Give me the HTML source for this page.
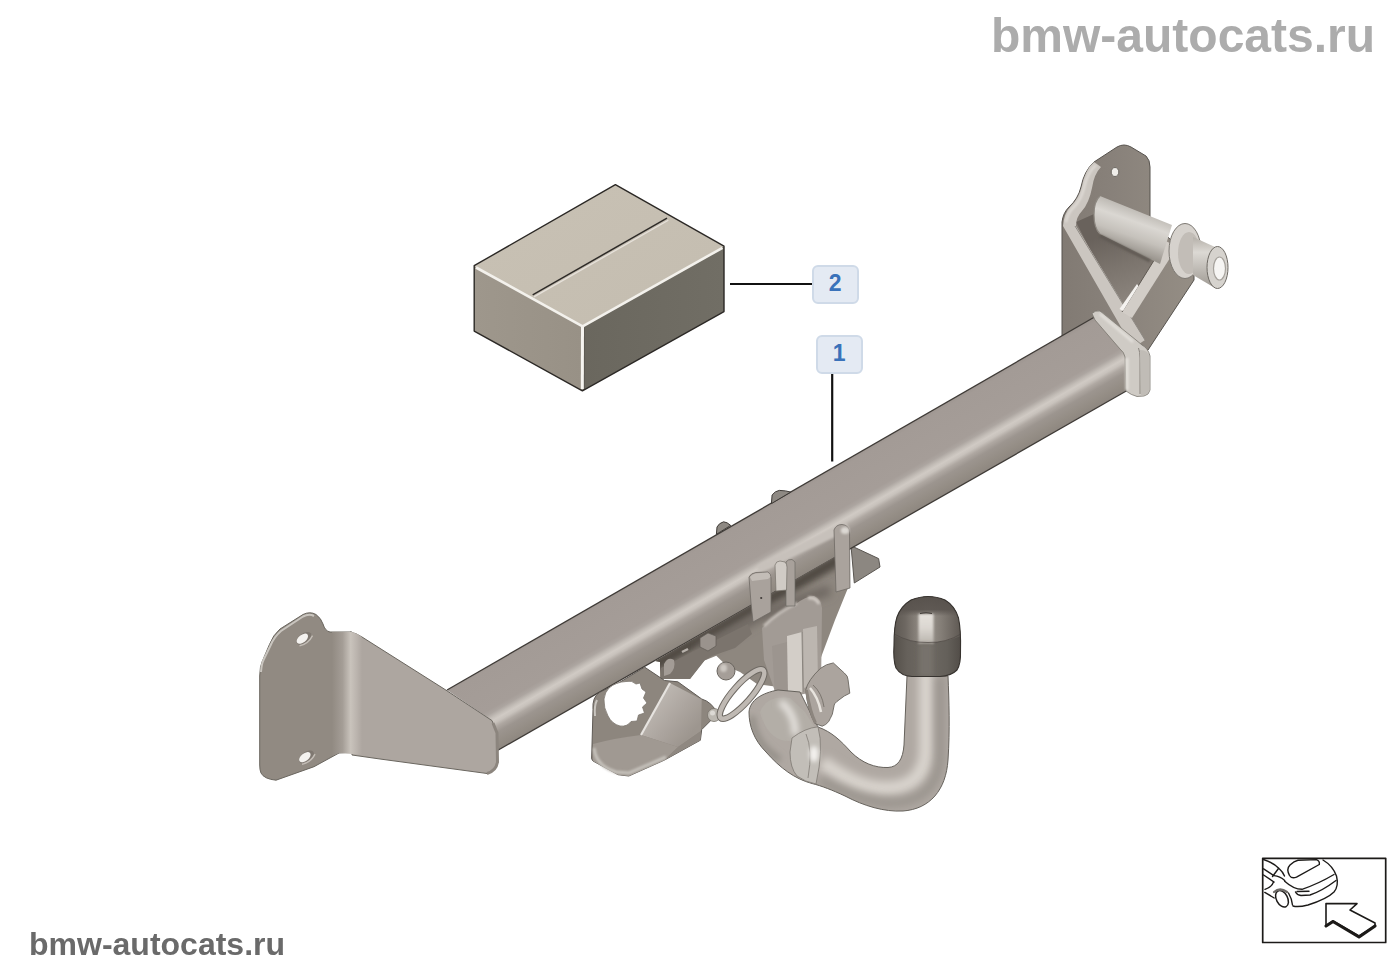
<!DOCTYPE html>
<html><head><meta charset="utf-8"><title>Towbar</title>
<style>
html,body{margin:0;padding:0;background:#fff;}
body{width:1400px;height:980px;position:relative;overflow:hidden;font-family:"Liberation Sans",sans-serif;}
.wm1{position:absolute;left:991px;top:8px;font-weight:bold;font-size:48px;line-height:56px;color:#acacac;white-space:nowrap;will-change:transform;}
.wm2{position:absolute;left:29px;top:925px;font-weight:bold;font-size:32px;line-height:38px;color:#6a6a6a;white-space:nowrap;will-change:transform;}
.lbl{position:absolute;width:42.5px;height:34.5px;border:2px solid #cfdae8;border-radius:6px;background:#e4eaf3;color:#3a72ba;font-weight:bold;font-size:23px;line-height:32.5px;text-align:center;}
svg{position:absolute;left:0;top:0;}
</style></head>
<body>
<svg width="1400" height="980" viewBox="0 0 1400 980">
<defs>
  <linearGradient id="gBar" gradientUnits="userSpaceOnUse" x1="700" y1="543.8" x2="739" y2="611.9">
    <stop offset="0" stop-color="#9e9691"/><stop offset="0.05" stop-color="#a39b96"/><stop offset="0.5" stop-color="#a59d98"/><stop offset="0.55" stop-color="#aca5a0"/><stop offset="0.6" stop-color="#c2bcb6"/><stop offset="0.64" stop-color="#d0cac4"/><stop offset="0.68" stop-color="#c8c2bc"/><stop offset="0.73" stop-color="#afa8a2"/><stop offset="0.8" stop-color="#9c958f"/><stop offset="0.92" stop-color="#948d85"/><stop offset="1" stop-color="#8e8780"/>
  </linearGradient>
  <linearGradient id="gBoxTop" x1="0" y1="0" x2="1" y2="1">
    <stop offset="0" stop-color="#c8c1b4"/><stop offset="1" stop-color="#c4bdb0"/>
  </linearGradient>
  <linearGradient id="gBoxL" x1="0" y1="0" x2="1" y2="0">
    <stop offset="0" stop-color="#9e978c"/><stop offset="1" stop-color="#989186"/>
  </linearGradient>
  <linearGradient id="gBoxR" x1="0" y1="0" x2="1" y2="0">
    <stop offset="0" stop-color="#6a675e"/><stop offset="1" stop-color="#716e65"/>
  </linearGradient>
  <linearGradient id="gBend" gradientUnits="userSpaceOnUse" x1="332" y1="0" x2="362" y2="0">
    <stop offset="0" stop-color="#918a82"/><stop offset="0.35" stop-color="#a49d96"/><stop offset="0.62" stop-color="#c9c3bc"/><stop offset="0.85" stop-color="#b9b2ac"/><stop offset="1" stop-color="#ada6a0"/>
  </linearGradient>
  <linearGradient id="gBall" x1="0" y1="0" x2="1" y2="0">
    <stop offset="0" stop-color="#58534d"/><stop offset="0.2" stop-color="#6d6761"/><stop offset="0.33" stop-color="#857f78"/><stop offset="0.5" stop-color="#9a948d"/><stop offset="0.68" stop-color="#837d76"/><stop offset="0.85" stop-color="#6a645e"/><stop offset="1" stop-color="#544f49"/>
  </linearGradient>
  <linearGradient id="gBallLow" x1="0" y1="0" x2="1" y2="0">
    <stop offset="0" stop-color="#55504a"/><stop offset="0.2" stop-color="#66615b"/><stop offset="0.5" stop-color="#6e6963"/><stop offset="0.8" stop-color="#64605a"/><stop offset="1" stop-color="#524d48"/>
  </linearGradient>
  <linearGradient id="gBallTop" x1="0" y1="0" x2="0" y2="1">
    <stop offset="0" stop-color="#554f4a" stop-opacity="1"/><stop offset="0.75" stop-color="#5a544f" stop-opacity="0.92"/><stop offset="1" stop-color="#5a544f" stop-opacity="0"/>
  </linearGradient>
  <linearGradient id="gBallHi" x1="0" y1="0" x2="0" y2="1">
    <stop offset="0" stop-color="#e6e2dc"/><stop offset="0.45" stop-color="#dbd7d1"/><stop offset="1" stop-color="#b9b4ad"/>
  </linearGradient>
  <filter id="blur05" filterUnits="userSpaceOnUse" x="0" y="0" width="1400" height="980"><feGaussianBlur stdDeviation="0.5"/></filter>
  <filter id="blur1" filterUnits="userSpaceOnUse" x="0" y="0" width="1400" height="980"><feGaussianBlur stdDeviation="1"/></filter>
  <filter id="blur2" filterUnits="userSpaceOnUse" x="0" y="0" width="1400" height="980"><feGaussianBlur stdDeviation="2"/></filter>
  <filter id="blur3" filterUnits="userSpaceOnUse" x="0" y="0" width="1400" height="980"><feGaussianBlur stdDeviation="3"/></filter>
  <filter id="blur4" filterUnits="userSpaceOnUse" x="0" y="0" width="1400" height="980"><feGaussianBlur stdDeviation="4"/></filter>
  <linearGradient id="gNeck" x1="0" y1="0" x2="1" y2="0">
    <stop offset="0" stop-color="#9d9891"/><stop offset="0.45" stop-color="#cbc7c1"/><stop offset="1" stop-color="#a29d96"/>
  </linearGradient>
  <linearGradient id="gArm" gradientUnits="userSpaceOnUse" x1="860" y1="745" x2="850" y2="808">
    <stop offset="0" stop-color="#a9a49d"/><stop offset="0.4" stop-color="#c4c0ba"/><stop offset="1" stop-color="#a39e97"/>
  </linearGradient>
  <linearGradient id="gPin" gradientUnits="userSpaceOnUse" x1="1140" y1="210" x2="1126" y2="250">
    <stop offset="0" stop-color="#bdb9b3"/><stop offset="0.3" stop-color="#dad7d2"/><stop offset="0.65" stop-color="#c5c1bb"/><stop offset="1" stop-color="#9a958e"/>
  </linearGradient>
  <linearGradient id="gInner" gradientUnits="userSpaceOnUse" x1="1105" y1="235" x2="1128" y2="305">
    <stop offset="0" stop-color="#69625c"/><stop offset="0.45" stop-color="#7b746d"/><stop offset="1" stop-color="#8d867f"/>
  </linearGradient>
  <linearGradient id="gPin2" x1="0" y1="0" x2="0" y2="1">
    <stop offset="0" stop-color="#b5b0a9"/><stop offset="0.3" stop-color="#dcd9d4"/><stop offset="1" stop-color="#9e9992"/>
  </linearGradient>
  <linearGradient id="gRPlate" gradientUnits="userSpaceOnUse" x1="1060" y1="0" x2="1190" y2="0">
    <stop offset="0" stop-color="#817a73"/><stop offset="0.4" stop-color="#88817a"/><stop offset="1" stop-color="#948d84"/>
  </linearGradient>
  <linearGradient id="gHolder" gradientUnits="userSpaceOnUse" x1="655" y1="705" x2="690" y2="735">
    <stop offset="0" stop-color="#bbb5af"/><stop offset="0.5" stop-color="#aca59f"/><stop offset="1" stop-color="#9d968f"/>
  </linearGradient>
</defs>

<!-- ===== BOX (item 2) ===== -->
<polygon points="615.4,184.6 724,246.2 582.6,325.5 474.2,265.7" fill="url(#gBoxTop)"/>
<polygon points="474.2,265.7 582.6,325.5 582.4,390.8 474.2,331.1" fill="url(#gBoxL)"/>
<polygon points="582.6,325.5 724,246.2 724,311.6 582.4,390.8" fill="url(#gBoxR)"/>
<polyline points="476,267.5 582.6,326.3 722.5,247.8" fill="none" stroke="#f3f1ec" stroke-width="2.6" stroke-linejoin="round" filter="url(#blur05)"/>
<line x1="582.5" y1="327" x2="582.3" y2="389" stroke="#f6f4f0" stroke-width="3" filter="url(#blur05)"/>
<line x1="584.6" y1="328" x2="584.4" y2="389" stroke="#55524b" stroke-width="0.8" opacity="0.7"/>
<polygon points="615.4,184.6 724,246.2 724,311.6 582.4,390.8 474.2,331.1 474.2,265.7" fill="none" stroke="#2b2825" stroke-width="1.4" stroke-linejoin="round"/>
<line x1="532.7" y1="294.8" x2="667" y2="218.2" stroke="#2e2b28" stroke-width="1.5"/>
<line x1="534" y1="296.9" x2="668.3" y2="220.3" stroke="#e6e1da" stroke-width="1.3"/>

<!-- leader lines -->
<line x1="730" y1="284" x2="816" y2="284" stroke="#111" stroke-width="2.2"/>
<path d="M814,285 L818,281" stroke="#111" stroke-width="1.5"/>
<line x1="832.2" y1="373" x2="832.2" y2="461.5" stroke="#111" stroke-width="2.2"/>

<!-- ===== RIGHT BRACKET (behind bar) ===== -->
<g id="rbracket">
  <path d="M1062,340 L1062,222 Q1063,213 1069,207 Q1078,199 1081,187 Q1084,171 1094,162 L1117,147 Q1124,143 1131,147 L1146,156 Q1150,160 1150,167 L1150,220 L1194,262 L1194,280 L1148,350 L1128,352 Z" fill="url(#gRPlate)" stroke="#57534e" stroke-width="1"/>
  <!-- inner shaded region between rim and gusset -->
  <path d="M1076,222 L1094,214 L1100,234 L1158,262 L1172,242 L1124,316 Z" fill="url(#gInner)"/>
  <!-- rim band left (bent flange edge) -->
  <path d="M1063,226 Q1064,213 1071,206 Q1079,198 1082,186 Q1085,170 1094,162 L1101,167 Q1094,174 1092,188 Q1089,203 1082,211 Q1076,217 1076,226 L1145,340 L1133,348 Z" fill="#cbc6c0"/>
  <path d="M1066,222 Q1068,212 1074,207 Q1081,200 1084,188 Q1087,173 1096,165" fill="none" stroke="#e2ded9" stroke-width="2" filter="url(#blur1)"/>
  <path d="M1075,226 L1145,340" stroke="#8e8983" stroke-width="1"/>
  <!-- gusset band right -->
  <path d="M1166,241 L1177,247 L1132,318 L1122,312 Z" fill="#d2cdc7"/>
  <path d="M1166,241 L1122,312" stroke="#5e5852" stroke-width="1"/>
  <path d="M1119.5,309 L1137,284 L1138.5,286 L1123,311 Z" fill="#f4f2ef"/>
  <!-- hole -->
  <ellipse cx="1115" cy="172" rx="3.8" ry="4.5" fill="#f0eeea" stroke="#6d6963" stroke-width="1"/>
  <!-- pin cylinder -->
  <path d="M1100,196 L1172,225 L1160,264 L1100,234 Q1094,228 1094,215 Q1094,201 1100,196 Z" fill="url(#gPin)"/>
  <path d="M1100,196 Q1094,201 1094,215 Q1094,228 1100,234" fill="none" stroke="#8e8982" stroke-width="1.2"/>
  <path d="M1100,236 L1150,261" stroke="#5f5953" stroke-width="3" filter="url(#blur1)"/>
  <!-- collar -->
  <ellipse cx="1185" cy="251" rx="16" ry="27.5" fill="#d6d2cd" stroke="#7d7973" stroke-width="1"/>
  <ellipse cx="1189" cy="253" rx="11" ry="21" fill="#c2bdb7"/>
  <path d="M1193,237 L1215,247 L1215,288 L1193,275 Z" fill="url(#gPin2)"/>
  <ellipse cx="1217.5" cy="267.5" rx="10.5" ry="21" fill="#d6d3ce" stroke="#6f6b65" stroke-width="1"/>
  <ellipse cx="1219.5" cy="268.5" rx="6" ry="11.5" fill="#f6f5f3" stroke="#a5a19b" stroke-width="1.2"/>
</g>

<!-- back triangle plate (center, behind) -->
<polygon points="851,545.7 878.6,558.6 880,567 854.3,583" fill="#8c8781" stroke="#5a5651" stroke-width="1"/>

<!-- ===== MAIN BAR ===== -->
<polygon points="447,690 1095,316.8 1124,350 1127,360 1128,390 497,750.7 492,720.6" fill="url(#gBar)"/>
<line x1="447" y1="690" x2="1095" y2="316.8" stroke="#3f3b37" stroke-width="1.3"/>
<line x1="497" y1="750.7" x2="1128" y2="390" stroke="#3f3b37" stroke-width="1.3"/>
<!-- tabs on bar top -->
<path d="M716.4,534.3 L717,527 Q719,523 723.6,521.8 Q727,522 730.7,525.4 Z" fill="#8e8983" stroke="#3f3b37" stroke-width="1"/>
<path d="M771.4,503.6 L772.1,495 Q775,491 779.3,490.4 Q786,490.5 790.7,492.1 Z" fill="#8e8983" stroke="#3f3b37" stroke-width="1"/>

<!-- right flange ring at bar end -->
<path d="M1092,313.5 Q1095,310 1100,311 L1136,340 L1142,345 Q1148,348 1150,356 L1150,390 Q1149,395 1144,396 L1137,396.5 Q1131,395 1126,391 L1125,357 Q1124,352 1120,349 L1095,320 Z" fill="#cfcbc5" stroke="#7a766f" stroke-width="0.8"/>
<path d="M1138.5,348 Q1140,352 1140,358 L1140,394" fill="none" stroke="#8a857f" stroke-width="1"/>
<path d="M1140,350 Q1149,350 1149.5,358 L1149.5,390 Q1148,395 1141,396 Z" fill="#c0bcb6"/>
<path d="M1127,358 L1127,390" stroke="#e4e1dc" stroke-width="3" filter="url(#blur1)"/>
<path d="M1100,314 L1133,342" stroke="#e4e1dc" stroke-width="2.5" filter="url(#blur1)"/>

<!-- ===== LEFT BRACKET ===== -->
<g stroke="#6a665f" stroke-width="1">
  <path d="M259.7,676 Q260,666 262,662 L269.4,644.6 Q273,635 280,629 L303,614.5 Q310,611 316,614.5 Q321,618 323,624 Q325,631 330,632 L352,632 L352,752 L339,753 L314,766.7 L276,780.2 Q264,779 261,773 Q259.7,770 259.7,765 Z" fill="#918a82"/>
  <path d="M350,632 Q356,633 362,637 L445,689.5 L492,720.6 L497,733 L497.5,762 Q496,771 487,773.5 L380,759 L352,755 Z" fill="#ada6a0"/>
</g>
<path d="M332,632 L352,632 Q357,633 362,637 L362,755 L352,754 L339,753 L332,756 Z" fill="url(#gBend)"/>
<path d="M261,672 Q261.5,664 263.5,660 L270.5,645.5 Q274,637 281,631 L303,616.5 Q309,613.5 314,616" fill="none" stroke="#c9c5bf" stroke-width="2"/>
<path d="M493,723 L497,733 L497.5,762 Q496,771 487,773.5" fill="none" stroke="#8c857e" stroke-width="3"/>
<g transform="rotate(-38 304 638.5)"><ellipse cx="304" cy="638.5" rx="8.5" ry="5" fill="#7f7871"/><ellipse cx="302.6" cy="637.6" rx="6.6" ry="3.8" fill="#f4f2ef"/><path d="M296,641.5 Q304,645.5 312.5,641.5" fill="none" stroke="#c3bdb6" stroke-width="1.4"/></g>
<g transform="rotate(-38 306.5 757)"><ellipse cx="306.5" cy="757" rx="8.5" ry="5" fill="#7f7871"/><ellipse cx="305.1" cy="756.1" rx="6.6" ry="3.8" fill="#f4f2ef"/><path d="M298.5,760 Q306.5,764 315,760" fill="none" stroke="#c3bdb6" stroke-width="1.4"/></g>

<!-- ===== CENTER ASSEMBLY ===== -->
<!-- mount plate below bar -->
<path d="M655,661 L849,549 L850,583 L835,620 L820,660 L800,690 L757,684 L740,672 L728,667 L716.3,655.7 L704.5,660.4 L690,679 L660,679 L660,662 Z" fill="#8e877f"/>
<clipPath id="mpClip"><path d="M655,661 L849,549 L850,583 L835,620 L820,660 L800,690 L757,684 L740,672 L728,667 L716.3,655.7 L704.5,660.4 L690,679 L660,679 L660,662 Z"/></clipPath>
<g clip-path="url(#mpClip)">
  <path d="M650,668 L850,553" stroke="#4f4943" stroke-width="12" filter="url(#blur3)"/>
  <path d="M700,650 L760,616 L800,600 L830,590" stroke="#6d6660" stroke-width="10" filter="url(#blur4)" fill="none"/>
</g>
<!-- left mechanism pieces -->
<path d="M661,668 L700,648 L730,633 L748,624 L752,634 L735,648 L712,656 L704.5,660.4 L690,679 L661,679 Z" fill="#7b746d"/>
<path d="M700,638 L708,633 L716,636 L716,646 L708,651 L700,647 Z" fill="#9a938d" stroke="#5f5a54" stroke-width="0.7"/>
<path d="M664,664 Q668,656 674,660 Q676,668 670,674 L664,676 Z" fill="#a39c96"/>
<path d="M682,652 L688,649" stroke="#b8b2ac" stroke-width="2.5"/>
<circle cx="726" cy="671" r="9" fill="#a59e98" stroke="#6a655f" stroke-width="1"/>
<ellipse cx="723.5" cy="668" rx="3.5" ry="4" fill="#cdc8c2" filter="url(#blur1)"/>
<!-- socket holder -->
<path d="M599.6,692.4 Q592,697 593,709.7 L591.6,758.8 L593,761 L618,774.7 L628.8,776 L664.6,760 L700.4,740.2 L701.7,729.6 L717.6,713.7 Q712,702 701.7,699 L677.8,681.8 L664.6,680.5 L644.7,667.2 L618.2,683.2 Z" fill="#8d867e" stroke="#5f5a55" stroke-width="1"/>
<path d="M641,735 L670,683 L701.7,699.5 L701,731 L678,747 Z" fill="url(#gHolder)"/>
<path d="M593,744 Q615,738 641,735 L678,747 L664.6,760 L628.8,776 L618,774.7 L593,761 Z" fill="#a09992"/>
<path d="M678,747 L701,731 L700.4,740.2 L664.6,760 Z" fill="#8f8881"/>
<path d="M641,735 L670,683" stroke="#e6e3df" stroke-width="2.2"/>
<path d="M594,748 Q596,766 616,772 L629,773 L666,757" fill="none" stroke="#c6c2bc" stroke-width="3" filter="url(#blur1)"/>
<path d="M597,700 Q594,706 595,716" fill="none" stroke="#c9c5bf" stroke-width="2"/>
<path d="M609,688 Q616,682 626,681.5 Q632,680 636,684 L640,683 L642,689 L646,692 L643.5,698 L647,703 L642.5,707 L644.5,713 L638.5,715 L637,721 L631,721.5 Q627,727 620,726 Q612,724 608,716 Q603.5,708 604,699 Q605,692 609,688 Z" fill="#ffffff" stroke="#7c766f" stroke-width="0.8"/>
<circle cx="714" cy="715" r="6.5" fill="#bcb8b1" stroke="#77726b" stroke-width="0.8"/>
<circle cx="712.5" cy="713" r="2.5" fill="#dcd9d4"/>
<!-- loop -->
<ellipse cx="742" cy="694" rx="32" ry="9" transform="rotate(-48.5 742 694)" fill="none" stroke="#6f6a64" stroke-width="6.5"/>
<ellipse cx="742" cy="694" rx="32" ry="9" transform="rotate(-48.5 742 694)" fill="none" stroke="#bfb9b3" stroke-width="4.5"/>

<!-- post / swivel body -->
<path d="M762,628 Q775,614 796,604 Q806,596 814,596 Q821,599 822,608 L821,690 L778,700 L764,660 Z" fill="#a29b95"/>
<path d="M764,626 Q778,612 797,603" fill="none" stroke="#c4beb8" stroke-width="3" filter="url(#blur1)"/>
<path d="M808,598 Q816,597 819,604" fill="none" stroke="#cfc9c3" stroke-width="3" filter="url(#blur1)"/>
<path d="M772,646 L787,642 L788,696 L775,698 Z" fill="#9c958f"/>
<path d="M787,636 L802,632 L803,692 L788,694 Z" fill="#d3cec8"/>
<path d="M803,629 L817,626 L818,682 L804,688 Z" fill="#bcb6b0"/>
<path d="M802,632 L803,692" stroke="#8a857f" stroke-width="1"/>

<!-- hitch arm -->
<clipPath id="armClip"><path id="armShape" d="M907,676 L948,676 C949,700 950,730 948,760 C946,790 930,809 903,811 C884,812 864,806 845,796 C832,790 822,786 812,783.5 C795,779 780,768 766,752 C754,740 749,726 749,712 C750,700 762,693 778,690 L800,692 L812,716 L818,727 C832,732 841,741 851,752 C862,763 875,768 888,767.5 C898,767 903,759 904,745 Z"/></clipPath>
<use href="#armShape" fill="#afa8a2"/>
<g clip-path="url(#armClip)">
  <path d="M926,670 L926,748 C926,780 905,790 880,788 C858,786 838,774 822,762" fill="none" stroke="#d9d4ce" stroke-width="14" filter="url(#blur4)"/>
  <path d="M940,676 L940,760 C936,795 910,806 880,802 C860,799 838,790 820,780" fill="none" stroke="#97928b" stroke-width="8" filter="url(#blur4)"/>
  <path d="M760,712 C765,700 775,696 790,698 L805,712 L815,728 L796,740 C780,744 766,735 760,712 Z" fill="#b3aea7"/>
  <path d="M780,702 C790,708 796,722 795,735" fill="none" stroke="#e6e3df" stroke-width="7" filter="url(#blur3)"/>
  <path d="M752,716 C753,735 762,748 780,760" fill="none" stroke="#918c85" stroke-width="6" filter="url(#blur3)"/>
</g>
<use href="#armShape" fill="none" stroke="#66625c" stroke-width="1"/>
<!-- collar -->
<path d="M792,738 Q805,728 818,726.8 Q824,748 816,784 Q805,782 797,776 Q790,768 790,752 Z" fill="#c2beb8" stroke="#7d7872" stroke-width="0.8"/>
<path d="M806,734 Q813,750 808,778" fill="none" stroke="#8f8a84" stroke-width="1"/>
<ellipse cx="814" cy="754" rx="4.5" ry="8" fill="#f3f1ee" filter="url(#blur2)"/>

<!-- knob -->
<path d="M820.4,668.4 Q826,664 833.3,662.9 L844.3,673 Q848,676 848,679.4 L849.8,693.2 L844.3,696 L837,701.4 Q834,704 834.2,705.1 L832.3,714.3 Q830,719 828.7,721.6 Q826,725 822.2,726.2 L814.9,723.5 Q808,712 805.7,690 Q808,680 820.4,668.4 Z" fill="#aba49e" stroke="#6a655f" stroke-width="0.9"/>
<path d="M806.5,690 Q810,712 815.5,723" fill="none" stroke="#8c857e" stroke-width="3" filter="url(#blur05)"/>
<path d="M810,688 Q818,697 821,712" fill="none" stroke="#e8e4de" stroke-width="2.5" filter="url(#blur05)"/>
<path d="M813,685 Q822,693 824,707" fill="none" stroke="#6e6962" stroke-width="0.8"/>

<!-- ball -->
<clipPath id="ballClip"><path id="ballShape" d="M896,668 Q893,660 894,645 Q894,626 897,617 Q901,606 911,600 Q920,596.5 928,596.5 Q937,596.5 945,600 Q955,606 958.5,618 Q961,630 960.5,650 Q961,664 957,670 Q951,676 940,676.5 L912,676.5 Q901,676 896,668 Z"/></clipPath>
<use href="#ballShape" fill="url(#gBallLow)"/>
<g clip-path="url(#ballClip)">
  <path d="M890,634 Q910,643 928,642.5 Q946,643 966,634 L966,590 L890,590 Z" fill="url(#gBall)"/>
  <rect x="890" y="590" width="76" height="26" fill="url(#gBallTop)"/>
  <rect x="918.5" y="614" width="15" height="30" fill="url(#gBallHi)" filter="url(#blur1)"/>
  <rect x="919" y="644" width="14" height="32" fill="#77726c" filter="url(#blur2)"/>
  <path d="M920,613.5 Q926,612 932,613.5" fill="none" stroke="#3e3935" stroke-width="1.2"/>
  <path d="M894,634 Q910,643 928,642.5 Q946,643 961,634" fill="none" stroke="#4e4944" stroke-width="1" opacity="0.7"/>
</g>
<use href="#ballShape" fill="none" stroke="#37332f" stroke-width="1.1"/>

<!-- straps / clamps on bar front -->
<path d="M757,566 Q760,563 766,561 L846,522 L849,530 L770,568 Q763,571 758,570 Z" fill="#c7c1bb" filter="url(#blur1)"/>
<path d="M749,577 Q751,573 756,572.5 L768,572 Q771,574 771,578 L771,612 L753,622 L751,603 Z" fill="#a9a29c" stroke="#6f6a64" stroke-width="0.8"/>
<path d="M750,577 Q753,573.5 758,573.2 L768,572.5 Q770.5,574 770.5,577 L768,579 L752,581 Z" fill="#c3bdb7"/>
<circle cx="761.2" cy="598" r="1.1" fill="#3e3a36"/>
<path d="M786,562 Q788,559 792,559.5 L795,562 L795,606 L786,606 Z" fill="#a8a19b" stroke="#6f6a64" stroke-width="0.7"/>
<path d="M775,565 Q776,561 780,561 L785,562 Q787,564 787,567 L786.5,590 L776,591 Z" fill="#d0cbc5" stroke="#77726b" stroke-width="0.7"/>
<path d="M834,530 Q836,524.5 842,524.5 Q849,525 849.5,532 L850,588 L836,592 Z" fill="#aaa39d" stroke="#6f6a64" stroke-width="0.8"/>
<ellipse cx="845" cy="530.5" rx="4.2" ry="3.6" fill="#dcd8d3" filter="url(#blur1)"/>

<!-- ===== CAR ICON ===== -->
<g fill="none" stroke="#1c1a18" stroke-width="1.4" stroke-linecap="round" stroke-linejoin="round">
  <rect x="1262.7" y="858.3" width="123" height="84.2" stroke-width="1.7"/>
  <path d="M1263.5,859.5 Q1274,863 1279,868.5 Q1283,872 1284.5,876"/>
  <path d="M1263.6,868.8 L1273.5,875.4"/>
  <path d="M1278.5,868.5 L1272.5,876.5"/>
  <path d="M1263.6,875 L1274,882"/>
  <path d="M1273.5,882 Q1272,887 1265,889.3"/>
  <path d="M1264.8,892.4 L1274.2,898"/>
  <path d="M1274,875.6 Q1280,876 1284.7,880.6"/>
  <path d="M1289.5,875.5 Q1286,869 1290,865 Q1294,861 1298,860.2 L1316.5,859.6 Q1320,861 1319.3,864.5 L1296.5,877.2 Q1291.5,879 1289.5,875.5 Z"/>
  <path d="M1323,860 Q1333,866 1336.5,876 Q1339,886 1334,892 Q1327,899 1308,905 Q1298,907.5 1293,906"/>
  <path d="M1284.7,881.2 C1290,886 1296,889.3 1302,889.3 Q1318,884 1334,874.5"/>
  <path d="M1295.5,892 Q1297,895 1301,895.5 L1310,895 Q1322,891 1336,880.5"/>
  <path d="M1297,891.5 L1309,891.2"/>
  <ellipse cx="1282" cy="898.8" rx="5.6" ry="8.8" transform="rotate(-28 1282 898.8)" stroke-width="1.5"/>
  <path d="M1274,892 Q1280,887 1287,892" stroke="#6d6a66" stroke-width="2.2"/>
  <path d="M1288.5,893 Q1292,899 1292.5,905" />
  <path d="M1326,903.6 L1357,903.6 L1350,910 L1375,923 L1375,926 L1359,936 L1333,921 L1326,926 Z" stroke-width="1.6"/>
  <path d="M1326,926 L1333,921.5 L1359,937 L1375,926" stroke-width="3.2"/>
</g>
</svg>

<div class="wm1">bmw-autocats.ru</div>
<div class="wm2">bmw-autocats.ru</div>
<div class="lbl" style="left:812px;top:265px;">2</div>
<div class="lbl" style="left:816px;top:335px;">1</div>
</body></html>
